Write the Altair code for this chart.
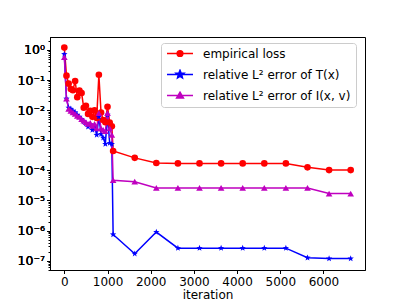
import math
import altair as alt
import pandas as pd

# ---------------- data ----------------
iter_dense = list(range(0, 1101, 50))
iter_sparse = list(range(1130, 6631, 500))

loss_dense = [1.2, 0.14, 0.076, 0.050, 0.046, 0.093, 0.027, 0.045, 0.037, 0.012, 0.014,
              0.0075, 0.0095, 0.0060, 0.0098, 0.0055, 0.15, 0.0083, 0.0047, 0.0040, 0.013,
              0.0039, 0.0029]
loss_sparse = [4.4e-4, 2.6e-4, 1.75e-4, 1.7e-4, 1.7e-4, 1.7e-4, 1.7e-4, 1.7e-4, 1.7e-4,
               1.26e-4, 1.02e-4, 1.02e-4]

errT_dense = [0.72, 0.024, 0.012, 0.011, 0.0095, 0.0085, 0.0070, 0.0060, 0.0050, 0.0042,
              0.0036, 0.0028, 0.0034, 0.0022, 0.0030, 0.0015, 0.0060, 0.0016, 0.0012,
              0.00075, 0.0070, 0.00080, 0.00075]
errT_sparse = [7.4e-7, 1.7e-7, 8.9e-7, 2.6e-7, 2.6e-7, 2.6e-7, 2.6e-7, 2.6e-7, 2.6e-7,
               1.25e-7, 1.17e-7, 1.17e-7]

errI_dense = [0.58, 0.024, 0.011, 0.0095, 0.0085, 0.0075, 0.0065, 0.0060, 0.0050, 0.0045,
              0.0040, 0.0035, 0.0038, 0.0030, 0.0035, 0.0025, 0.0080, 0.0025, 0.0022,
              0.0020, 0.0080, 0.0025, 0.0015]
errI_sparse = [4.7e-5, 4.2e-5, 2.6e-5, 2.6e-5, 2.6e-5, 2.6e-5, 2.6e-5, 2.6e-5, 2.6e-5,
               2.6e-5, 1.7e-5, 1.7e-5]

names = ["empirical loss", "relative L² error of T(x)", "relative L² error of I(x, v)"]
colors = ["#ff0000", "#0000ff", "#bf00bf"]

x_ticks = [0, 1000, 2000, 3000, 4000, 5000, 6000]
y_exps = [0, -1, -2, -3, -4, -5, -6, -7]

# ---------------- table ----------------
iters = iter_dense + iter_sparse
rows = []
for name, vals in zip(names, [loss_dense + loss_sparse,
                              errT_dense + errT_sparse,
                              errI_dense + errI_sparse]):
    for it, v in zip(iters, vals):
        rows.append({"iteration": it, "value": v, "series": name})
df = pd.DataFrame(rows)

# ---------------- shapes ----------------
def star(r_out, r_in):
    pts = []
    for k in range(10):
        r = r_out if k % 2 == 0 else r_in
        a = math.radians(-90 + 36 * k)
        pts.append(f"{r * math.cos(a):.3f},{r * math.sin(a):.3f}")
    return "M" + "L".join(pts) + "Z"

def circ(r):
    return f"M{r},0A{r},{r},0,1,1,{-r},0A{r},{r},0,1,1,{r},0Z"

def tri(r):
    return f"M0,{-r}L{r * 1.05:.3f},{r * 0.8:.3f}L{-r * 1.05:.3f},{r * 0.8:.3f}Z"

line_part = "M-1,0L1,0"
plot_shapes = ["circle", star(1.0, 0.42), "triangle-up"]
legend_shapes = [line_part + circ(0.22), line_part + star(0.32, 0.14), line_part + tri(0.25)]

# ---------------- scales ----------------
sup = {"0": "⁰", "1": "¹", "2": "²", "3": "³", "4": "⁴", "5": "⁵", "6": "⁶", "7": "⁷", "-": "⁻"}
def sup_str(e):
    return "10" + "".join(sup[c] for c in str(e))

expr = "'" + sup_str(y_exps[-1]) + "'"
for e in reversed(y_exps[:-1]):
    expr = f"datum.value > {10 ** (e - 0.5)} ? '{sup_str(e)}' : " + expr
y_minor = [m * 10.0 ** k for k in range(-8, 1) for m in range(2, 10)
           if 10 ** -7.31 <= m * 10.0 ** k <= 10 ** 0.43]

xscale = alt.Scale(domain=[-331.5, 6961.5], nice=False, zero=False)
yscale = alt.Scale(type="log", domain=[10 ** -7.31, 10 ** 0.43], nice=False)

x_enc = alt.X("iteration:Q", scale=xscale,
              axis=alt.Axis(values=x_ticks, format="d", title="iteration",
                            tickSize=3.5, labelPadding=3, titlePadding=2))
y_major = alt.Y("value:Q", scale=yscale,
                axis=alt.Axis(values=[10.0 ** e for e in y_exps], labelExpr=expr,
                              title=None, orient="left", tickSize=3.5, labelPadding=2,
                              labelFontSize=12.5))
y_min = alt.Y("value:Q", scale=yscale,
              axis=alt.Axis(values=y_minor, labels=False, title=None, orient="left",
                            tickSize=2, domain=False))

cscale = alt.Scale(domain=names, range=colors)

lines = alt.Chart(df).mark_line(strokeWidth=1.5).encode(
    x=x_enc, y=y_major,
    color=alt.Color("series:N", scale=cscale, legend=None),
)
points = alt.Chart(df).mark_point(filled=True, size=44, opacity=1).encode(
    x=x_enc, y=y_major,
    color=alt.Color("series:N", scale=cscale, legend=None),
    shape=alt.Shape("series:N", scale=alt.Scale(domain=names, range=plot_shapes), legend=None),
)
minor = alt.Chart(df).mark_point(opacity=0).encode(x=x_enc, y=y_min)

leg = alt.Legend(title=None, orient="none", legendX=111, legendY=6, padding=5,
                 strokeColor="#cccccc", fillColor="white", cornerRadius=3,
                 labelFont="DejaVu Sans", labelFontSize=12, labelColor="black",
                 symbolSize=676, symbolStrokeWidth=1.5, clipHeight=11, rowPadding=8,
                 labelOffset=9, symbolOpacity=1)
legend_layer = alt.Chart(df).mark_point(opacity=1, strokeWidth=1.5).encode(
    x=x_enc, y=y_major,
    fill=alt.Fill("series:N", scale=alt.Scale(domain=names, range=colors), legend=leg),
    stroke=alt.Stroke("series:N", scale=alt.Scale(domain=names, range=colors), legend=leg),
    shape=alt.Shape("series:N", scale=alt.Scale(domain=names, range=legend_shapes), legend=leg),
).transform_filter("false")

chart = alt.layer(lines, points, minor, legend_layer).resolve_scale(
    color="independent", shape="independent", fill="independent", stroke="independent"
).resolve_axis(y="independent").properties(
    width=315, height=233,
    autosize=alt.AutoSizeParams(type="none"),
    padding={"left": 42, "top": 29, "right": 32, "bottom": 36},
).configure_view(stroke="black", strokeWidth=1).configure_axis(
    labelFont="DejaVu Sans", labelFontSize=12, labelColor="black",
    titleFont="DejaVu Sans", titleFontSize=12, titleFontWeight="normal", titleColor="black",
    tickColor="black", domainColor="black", grid=False,
)

chart.save("out.html", embed_options={"renderer": "svg", "actions": False})
